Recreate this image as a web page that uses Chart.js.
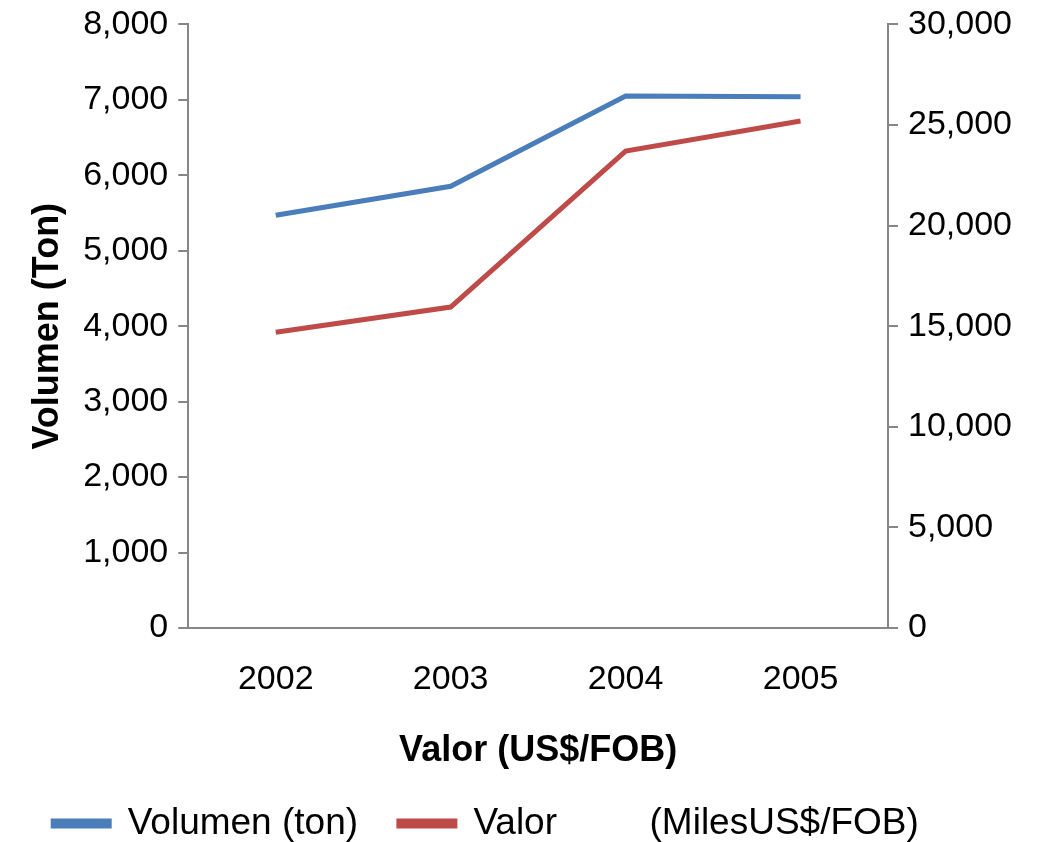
<!DOCTYPE html>
<html>
<head>
<meta charset="utf-8">
<script src="https://cdn.jsdelivr.net/npm/chart.js@4"></script>
<style>
  html, body { margin: 0; padding: 0; background: #fff; overflow: hidden; }
  #wrap { position: relative; top: -6px; width: 1046px; height: 858px; }
</style>
</head>
<body>
<div id="wrap"><canvas id="grafico"></canvas></div>
<script>
// datos
const anios = ['2002', '2003', '2004', '2005'];
const volumen = [5470, 5855, 7050, 7040];      // ton (eje izquierdo)
const valor = [14700, 15950, 23700, 25200];    // miles US$/FOB (eje derecho)

const fuente = 'Liberation Sans, Arial, sans-serif';
const gris = '#868686';

function miles(v) {
  return Number(v).toLocaleString('en-US');
}

new Chart(document.getElementById('grafico'), {
  type: 'line',
  data: {
    labels: anios,
    datasets: [{
      label: 'Volumen (ton)   ',
      data: volumen,
      borderColor: '#4A7EBB',
      backgroundColor: '#4A7EBB',
      borderWidth: 5,
      pointRadius: 0,
      tension: 0,
      yAxisID: 'y'
    }, {
      // los espacios del final corren la leyenda a la izquierda como en el original
      label: 'Valor         (MilesUS$/FOB)       ',
      data: valor,
      borderColor: '#BE4B48',
      backgroundColor: '#BE4B48',
      borderWidth: 5,
      pointRadius: 0,
      tension: 0,
      yAxisID: 'y1'
    }]
  },
  options: {
    responsive: true,
    maintainAspectRatio: false,
    animation: false,
    layout: { padding: { top: 0, right: 24, left: 22, bottom: 0 } },
    plugins: {
      tooltip: { enabled: false },
      legend: {
        position: 'bottom',
        labels: {
          font: { family: fuente, size: 37 },
          color: '#000',
          boxWidth: 56,
          boxHeight: 5,
          padding: 10
        }
      }
    },
    scales: {
      x: {
        offset: true,
        grid: { display: false },
        border: { display: true, color: gris, width: 2 },
        ticks: { font: { family: fuente, size: 34 }, color: '#000', padding: 23 },
        title: {
          display: true,
          text: 'Valor (US$/FOB)',
          font: { family: fuente, size: 36, weight: 'bold' },
          color: '#000',
          padding: { top: 7, bottom: 22 }
        }
      },
      y: {
        position: 'left',
        min: 0,
        max: 8000,
        ticks: {
          stepSize: 1000,
          font: { family: fuente, size: 34 },
          color: '#000',
          padding: 10,
          callback: miles
        },
        grid: { drawOnChartArea: false, color: gris, tickLength: 10, lineWidth: 2 },
        border: { color: gris, width: 2 },
        title: {
          display: true,
          text: 'Volumen (Ton)',
          font: { family: fuente, size: 36, weight: 'bold' },
          color: '#000',
          padding: { bottom: 4 }
        }
      },
      y1: {
        position: 'right',
        min: 0,
        max: 30000,
        ticks: {
          stepSize: 5000,
          font: { family: fuente, size: 34 },
          color: '#000',
          padding: 10,
          callback: miles
        },
        grid: { drawOnChartArea: false, color: gris, tickLength: 10, lineWidth: 2 },
        border: { color: gris, width: 2 }
      }
    }
  }
});
</script>
</body>
</html>
